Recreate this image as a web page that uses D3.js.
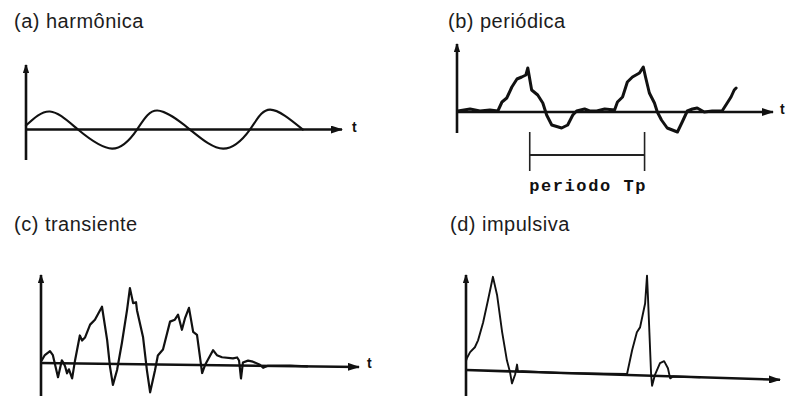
<!DOCTYPE html>
<html lang="pt">
<head>
<meta charset="utf-8">
<title>Tipos de sinais</title>
<script src="https://cdn.jsdelivr.net/npm/d3@7"></script>
<style>
  body { margin: 0; background: #fff; }
  .title { font-family: "Liberation Sans", Arial, sans-serif; font-size: 20px; letter-spacing: 0.5px; fill: #1c1c1c; }
  .tlab { font-family: "Liberation Sans", Arial, sans-serif; font-size: 14px; font-weight: bold; fill: #111; }
  .axis { stroke: #111; stroke-width: 2.6; fill: none; }
  .wave { fill: none; stroke: #111; stroke-linejoin: round; stroke-linecap: round; }
  .mono { font-family: "Liberation Mono", "Courier New", monospace; font-size: 17px; font-weight: bold; letter-spacing: 1.6px; fill: #111; }
</style>
</head>
<body>
<script>
// titles
var titles = ["(a) harmônica", "(b) periódica", "(c) transiente", "(d) impulsiva"];
var axisLabel = "t";

// (a) harmonic: time / amplitude
var harmT = [0, 0.75, 1.63, 2.70, 3.48, 4.11, 5.14, 6.18, 7.02, 7.65, 8.68];
var harmV = [0.21, 0.95, 0, -1.0, 0, 1.0, 0, -1.0, 0, 1.05, 0];

// (b) periodic
var perT = [0.03,0.41,0.72,1.03,1.28,1.41,1.56,1.72,1.88,2.03,2.16,2.22,2.34,2.53,2.69,
            2.81,2.97,3.28,3.47,3.63,3.75,4.0,4.16,4.38,4.63,4.94,5.03,5.19,5.34,5.5,
            5.72,5.84,5.91,6.03,6.19,6.28,6.41,6.59,6.91,7.06,7.22,7.38,7.53,7.75,8.0,
            8.31,8.47,8.59,8.69,8.75];
var perV = [0.1,0.3,0.1,0.2,0.1,1.0,1.4,2.5,3.3,3.5,3.7,4.4,2.2,1.7,0.9,
            -0.3,-1.3,-1.6,-1.3,-0.3,0.1,0.3,0.1,0.1,0.3,0.2,1.0,1.5,3.0,3.5,
            3.9,4.5,3.5,1.9,0.9,0,-0.8,-1.6,-2.0,-1.0,0.1,0.3,0.4,0,0.1,
            0.1,0.9,1.5,2.2,2.4];
var periodMarks = [2.28, 5.88];
var periodLabel = "periodo Tp";

// (c) transient
var tranT = [0.03,0.12,0.28,0.37,0.53,0.65,0.69,0.75,0.81,0.87,0.97,1.06,1.21,1.28,1.37,
             1.53,1.68,1.9,2.06,2.15,2.24,2.37,2.52,2.68,2.77,2.87,2.96,2.99,3.18,3.3,
             3.4,3.55,3.64,3.8,4.02,4.17,4.27,4.39,4.49,4.61,4.74,4.86,5.02,5.11,5.36,
             5.48,5.64,5.98,6.11,6.17,6.23,6.29,6.45,6.6,6.82,6.92,7.07,7.76,8.29];
var tranV = [0.3,0.8,1.2,0.8,-1.4,0.3,0.1,-0.3,-1.0,-0.6,-1.5,0.3,2.8,2.3,2.6,
             3.9,4.4,5.7,2.4,-0.3,-2.1,-0.6,2.1,5.4,7.6,6.1,6.2,5.4,2.7,-0.6,
             -2.8,-0.6,0.9,1.5,4.3,4.5,5.0,3.5,4.7,5.7,3.3,3.0,-0.8,0.0,1.5,
             1.0,0.8,0.7,0.8,0.5,-1.3,0.3,0.5,0.4,0.1,-0.2,0,0.05,0];

// (d) impulsive
var impT = [0,0.03,0.13,0.28,0.38,0.54,0.69,0.85,0.98,1.14,1.29,1.39,1.45,1.55,1.61,1.64,1.77,2.97,
            5.08,5.24,5.39,5.49,5.65,5.71,5.74,5.84,5.87,5.96,6.12,6.25,6.37,6.44,6.53,7.38];
var impV = [0.9,1.2,1.8,2.3,3.0,4.8,7.0,9.4,7.6,3.9,1.1,-0.1,-1.2,-0.3,0.7,0,0.05,0,
            0.1,2.5,4.3,4.8,7.2,10.0,7.9,0.1,-1.0,0.1,1.3,1.5,0.8,-0.2,0,0];

var w = 786, h = 396;

var svg = d3.select("body").append("svg")
  .attr("width", w).attr("height", h);

var defs = svg.append("defs");
function arrow(id, len, half) {
  defs.append("marker")
    .attr("id", id)
    .attr("markerUnits", "userSpaceOnUse")
    .attr("viewBox", "0 " + (-half) + " " + len + " " + (2 * half))
    .attr("refX", len - 1).attr("refY", 0)
    .attr("markerWidth", len).attr("markerHeight", 2 * half)
    .attr("orient", "auto")
    .append("path")
    .attr("d", "M0," + (-half) + "L" + len + ",0L0," + half + "Z")
    .attr("fill", "#111");
}
arrow("arrX", 12, 4);
arrow("arrY", 9, 3.2);

var panels = [
  { T: harmT, V: harmV, xr: [26, 345], yd: [-1.6, 3.5], yr: [160, 63], skew: 0, sw: 2.1,
    curve: d3.curveNatural, title: [14, 28], tl: [352, 132] },
  { T: perT, V: perV, xr: [457, 776], yd: [-2.1, 7.0], yr: [133, 42], skew: 0, sw: 3,
    curve: d3.curveLinear, title: [448, 28], tl: [780, 114] },
  { T: tranT, V: tranV, xr: [41, 362], yd: [-3.3, 9.0], yr: [396, 273], skew: 0.72, sw: 2.2,
    curve: d3.curveLinear, title: [14, 231], tl: [367, 368] },
  { T: impT, V: impV, xr: [466, 783], yd: [-2.6, 9.7], yr: [396, 273], skew: 1.78, sw: 1.9,
    curve: d3.curveLinear, title: [450, 231], tl: null }
];

panels.forEach(function(p, i) {
  var x = d3.scaleLinear().domain([0, 10]).range(p.xr);
  var y = d3.scaleLinear().domain(p.yd).range(p.yr);
  var x0 = x(0), y0 = y(0);

  svg.append("text")
    .attr("class", "title")
    .attr("x", p.title[0]).attr("y", p.title[1])
    .text(titles[i]);

  // y axis
  svg.append("line")
    .attr("class", "axis")
    .attr("x1", x0).attr("y1", y.range()[0])
    .attr("x2", x0).attr("y2", y.range()[1] + 2)
    .attr("marker-end", "url(#arrY)");

  var g = svg.append("g")
    .attr("transform", "translate(" + x0 + "," + y0 + ") skewY(" + p.skew + ") translate(" + (-x0) + "," + (-y0) + ")");

  // x axis
  g.append("line")
    .attr("class", "axis")
    .attr("x1", x0).attr("y1", y0)
    .attr("x2", x(10) - 3).attr("y2", y0)
    .attr("marker-end", "url(#arrX)");

  var line = d3.line()
    .x(function(d) { return x(d[0]); })
    .y(function(d) { return y(d[1]); })
    .curve(p.curve);

  g.append("path")
    .datum(d3.zip(p.T, p.V))
    .attr("class", "wave")
    .attr("stroke-width", p.sw)
    .attr("d", line);

  if (p.tl) {
    svg.append("text")
      .attr("class", "tlab")
      .attr("x", p.tl[0]).attr("y", p.tl[1])
      .text(axisLabel);
  }

  // period bracket in (b)
  if (i === 1) {
    var bk = svg.append("g").attr("stroke", "#222").attr("stroke-width", 1.6);
    periodMarks.forEach(function(t) {
      bk.append("line")
        .attr("x1", x(t)).attr("x2", x(t))
        .attr("y1", y(-2.0)).attr("y2", y(-5.9));
    });
    bk.append("line")
      .attr("x1", x(periodMarks[0])).attr("x2", x(periodMarks[1]))
      .attr("y1", y(-4.3)).attr("y2", y(-4.3))
      .attr("stroke-width", 2.2);
    svg.append("text")
      .attr("class", "mono")
      .attr("x", (x(periodMarks[0]) + x(periodMarks[1])) / 2 + 1)
      .attr("y", 191)
      .attr("text-anchor", "middle")
      .text(periodLabel);
  }
});
</script>
</body>
</html>
